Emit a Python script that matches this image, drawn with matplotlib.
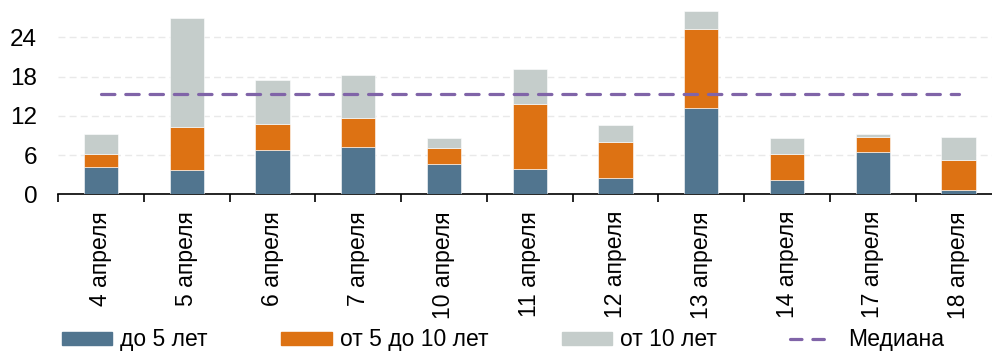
import matplotlib
matplotlib.use("Agg")
import matplotlib.pyplot as plt
from matplotlib.patches import Patch
from matplotlib.lines import Line2D
import numpy as np

plt.rcParams['font.family'] = ['Liberation Sans', 'DejaVu Sans']

dates = ["4 апреля", "5 апреля", "6 апреля", "7 апреля", "10 апреля", "11 апреля",
         "12 апреля", "13 апреля", "14 апреля", "17 апреля", "18 апреля"]
up_to_5 = [4.2, 3.7, 6.8, 7.3, 4.7, 3.8, 2.55, 13.25, 2.25, 6.4, 0.7]
from_5_to_10 = [2.0, 6.6, 4.0, 4.4, 2.3, 10.0, 5.45, 12.0, 3.95, 2.35, 4.5]
over_10 = [3.0, 16.6, 6.6, 6.5, 1.65, 5.4, 2.55, 2.7, 2.45, 0.4, 3.55]
median_value = 15.3
y_ticks = [0, 6, 12, 18, 24]

series_labels = ["до 5 лет", "от 5 до 10 лет", "от 10 лет", "Медиана"]
c_blue = "#51758f"
c_orange = "#dd7213"
c_grey = "#c5cdcb"
c_median = "#8064a8"

fig = plt.figure(figsize=(9.92, 3.53), dpi=100)
ax = fig.add_axes([0.0585, 0.4496, 0.951, 0.5504])

x = np.arange(len(dates))
a = np.array(up_to_5)
b = np.array(from_5_to_10)
c = np.array(over_10)
w = 0.40
ax.bar(x, a, w, color=c_blue, edgecolor="white", linewidth=0.4, zorder=3)
ax.bar(x, b, w, bottom=a, color=c_orange, edgecolor="white", linewidth=0.4, zorder=3)
ax.bar(x, c, w, bottom=a + b, color=c_grey, edgecolor="white", linewidth=0.4, zorder=3)

ax.plot([x[0], x[-1]], [median_value, median_value], color=c_median, lw=2.3,
        dashes=(4.2, 3.4), dash_capstyle="round", zorder=4)

ax.set_xlim(-0.5, len(dates) - 0.5)
ax.set_ylim(0, 29.7)
ax.set_yticks(y_ticks)
ax.yaxis.grid(True, color="#e9e9e9", lw=1.0, dashes=(5, 3))
ax.set_axisbelow(True)

for s in ["left", "right", "top"]:
    ax.spines[s].set_visible(False)
ax.spines["bottom"].set_linewidth(1.2)

ax.set_xticks(x)
ax.set_xticklabels(dates, rotation=90, fontsize=16.5)
ax.set_xticks(np.arange(len(dates) + 1) - 0.5, minor=True)
ax.tick_params(axis="x", which="major", length=0, pad=12)
ax.tick_params(axis="x", which="minor", length=6, width=1.2, direction="out")
ax.tick_params(axis="y", length=0, pad=15, labelsize=17.5)

# legend key for the median: two short dashes, then blank space before the text
median_key = Line2D([], [], color=c_median, lw=2.3, dashes=(3.6, 3.4, 3.6, 40),
                    dash_capstyle="round")
handles = [Patch(color=c_blue), Patch(color=c_orange), Patch(color=c_grey), median_key]
fig.legend(handles, series_labels, loc="center left", bbox_to_anchor=(0.0625, 0.037),
           ncol=4, frameon=False, fontsize=16.5, handlelength=2.2, handleheight=0.5,
           handletextpad=0.35, columnspacing=3.2, borderpad=0, borderaxespad=0)

fig.savefig("out.png", dpi=100)
